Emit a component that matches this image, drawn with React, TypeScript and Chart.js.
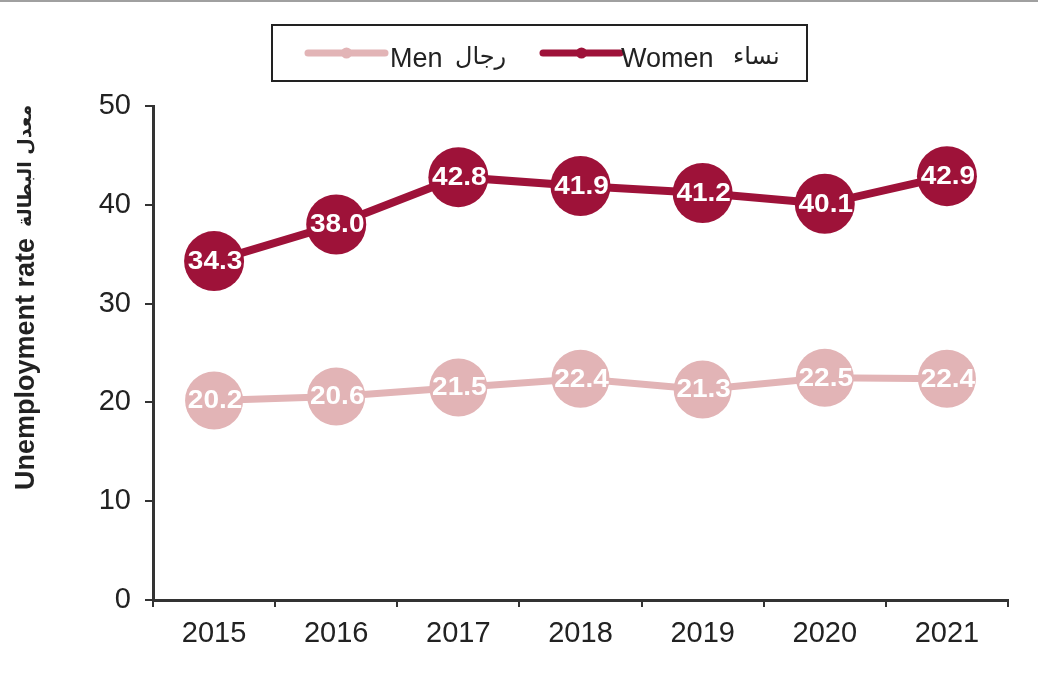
import React, { useEffect, useRef } from "react";
import { Chart, registerables } from "chart.js";
Chart.register(...registerables);

const years = ["2015", "2016", "2017", "2018", "2019", "2020", "2021"];
const menValues = [20.2, 20.6, 21.5, 22.4, 21.3, 22.5, 22.4];
const womenValues = [34.3, 38.0, 42.8, 41.9, 41.2, 40.1, 42.9];
const seriesNames = ["Men", "Women"];
const seriesNamesAr = ["رجال", "نساء"];
const yTicks = [0, 10, 20, 30, 40, 50];
const axisTitleEn = "Unemployment rate";
const axisTitleAr = "معدل البطالة";

const MEN_COLOR = "#E2B4B6";
const WOMEN_COLOR = "#9E1239";
const TEXT = "#222222";
const FONT = "'Liberation Sans', Arial, sans-serif";
const AR_FONT = "'DejaVu Sans', 'Noto Sans', sans-serif";

const valueLabels = {
  id: "valueLabels",
  afterDatasetsDraw(chart: any) {
    const ctx = chart.ctx;
    chart.data.datasets.forEach((ds: any, i: number) => {
      const meta = chart.getDatasetMeta(i);
      meta.data.forEach((pt: any, j: number) => {
        const v = ds.data[j];
        ctx.save();
        ctx.translate(pt.x + 1, pt.y + 1);
        ctx.scale(1.12, 1);
        ctx.font = `bold 25px ${FONT}`;
        ctx.fillStyle = "#ffffff";
        ctx.textAlign = "center";
        ctx.textBaseline = "middle";
        ctx.fillText(Number(v).toFixed(1), 0, 0);
        ctx.restore();
      });
    });
  },
};

const decorations = {
  id: "decorations",
  afterDraw(chart: any) {
    const ctx = chart.ctx;
    ctx.save();
    // top rule
    ctx.fillStyle = "#a0a0a0";
    ctx.fillRect(0, 0, chart.width, 2);

    // legend box
    ctx.strokeStyle = "#222";
    ctx.lineWidth = 2;
    ctx.strokeRect(272, 25, 535, 56);

    const items = [
      { x0: 308, x1: 385, tx: 390, ax: 455, color: MEN_COLOR, lw: 7 },
      { x0: 543, x1: 620, tx: 621, ax: 733, color: WOMEN_COLOR, lw: 7 },
    ];
    items.forEach((it, i) => {
      ctx.strokeStyle = it.color;
      ctx.lineWidth = it.lw;
      ctx.lineCap = "round";
      ctx.beginPath();
      ctx.moveTo(it.x0, 53);
      ctx.lineTo(it.x1, 53);
      ctx.stroke();
      ctx.fillStyle = it.color;
      ctx.beginPath();
      ctx.arc((it.x0 + it.x1) / 2, 53, 5.5, 0, Math.PI * 2);
      ctx.fill();
      ctx.fillStyle = TEXT;
      ctx.textAlign = "left";
      ctx.textBaseline = "alphabetic";
      ctx.direction = "ltr";
      ctx.font = `27px ${FONT}`;
      ctx.fillText(seriesNames[i], it.tx, 67);
      ctx.font = `24px ${AR_FONT}`;
      ctx.fillText(seriesNamesAr[i], it.ax, 64);
    });

    // y axis title
    ctx.translate(27, 490);
    ctx.rotate(-Math.PI / 2);
    ctx.fillStyle = TEXT;
    ctx.textAlign = "left";
    ctx.textBaseline = "middle";
    ctx.direction = "ltr";
    ctx.font = `bold 27px ${FONT}`;
    ctx.fillText(axisTitleEn, 0, 0);
    ctx.font = `bold 19px ${AR_FONT}`;
    ctx.fillText(axisTitleAr, 263, -1);
    ctx.restore();
  },
};

export default function App() {
  const ref = useRef<HTMLCanvasElement | null>(null);
  useEffect(() => {
    if (!ref.current) return;
    const chart = new Chart(ref.current, {
      type: "line",
      data: {
        labels: years,
        datasets: [
          {
            label: seriesNames[0],
            data: menValues,
            borderColor: MEN_COLOR,
            backgroundColor: MEN_COLOR,
            borderWidth: 7,
            pointRadius: 29,
            pointBorderWidth: 0,
            pointBackgroundColor: MEN_COLOR,
            tension: 0,
          },
          {
            label: seriesNames[1],
            data: womenValues,
            borderColor: WOMEN_COLOR,
            backgroundColor: WOMEN_COLOR,
            borderWidth: 8,
            pointRadius: 30,
            pointBorderWidth: 0,
            pointBackgroundColor: WOMEN_COLOR,
            tension: 0,
          },
        ],
      },
      options: {
        responsive: false,
        animation: false,
        layout: { padding: { top: 106, right: 28, left: 0, bottom: 0 } },
        plugins: {
          legend: { display: false },
          tooltip: { enabled: false },
          title: { display: false },
        },
        scales: {
          x: {
            type: "category",
            offset: true,
            grid: {
              offset: true,
              drawOnChartArea: false,
              drawTicks: true,
              tickLength: 7,
              color: "#333",
              lineWidth: 2,
            },
            border: { display: true, color: "#333", width: 3 },
            ticks: {
              color: TEXT,
              font: { family: FONT, size: 29 },
              padding: 10,
              maxRotation: 0,
            },
            afterFit(scale: any) {
              scale.height = 90;
            },
          },
          y: {
            min: yTicks[0],
            max: yTicks[yTicks.length - 1],
            grid: {
              drawOnChartArea: false,
              drawTicks: true,
              tickLength: 8,
              color: "#333",
              lineWidth: 2,
            },
            border: { display: true, color: "#333", width: 3 },
            ticks: {
              stepSize: yTicks[1] - yTicks[0],
              color: TEXT,
              font: { family: FONT, size: 29 },
              padding: 14,
            },
            afterFit(scale: any) {
              scale.width = 153;
            },
          },
        },
      },
      plugins: [valueLabels, decorations],
    });
    return () => chart.destroy();
  }, []);
  return (
    <div style={{ position: "absolute", left: 0, top: 0, width: 1038, height: 690, background: "#fff" }}>
      <canvas ref={ref} width={1038} height={690} />
    </div>
  );
}
